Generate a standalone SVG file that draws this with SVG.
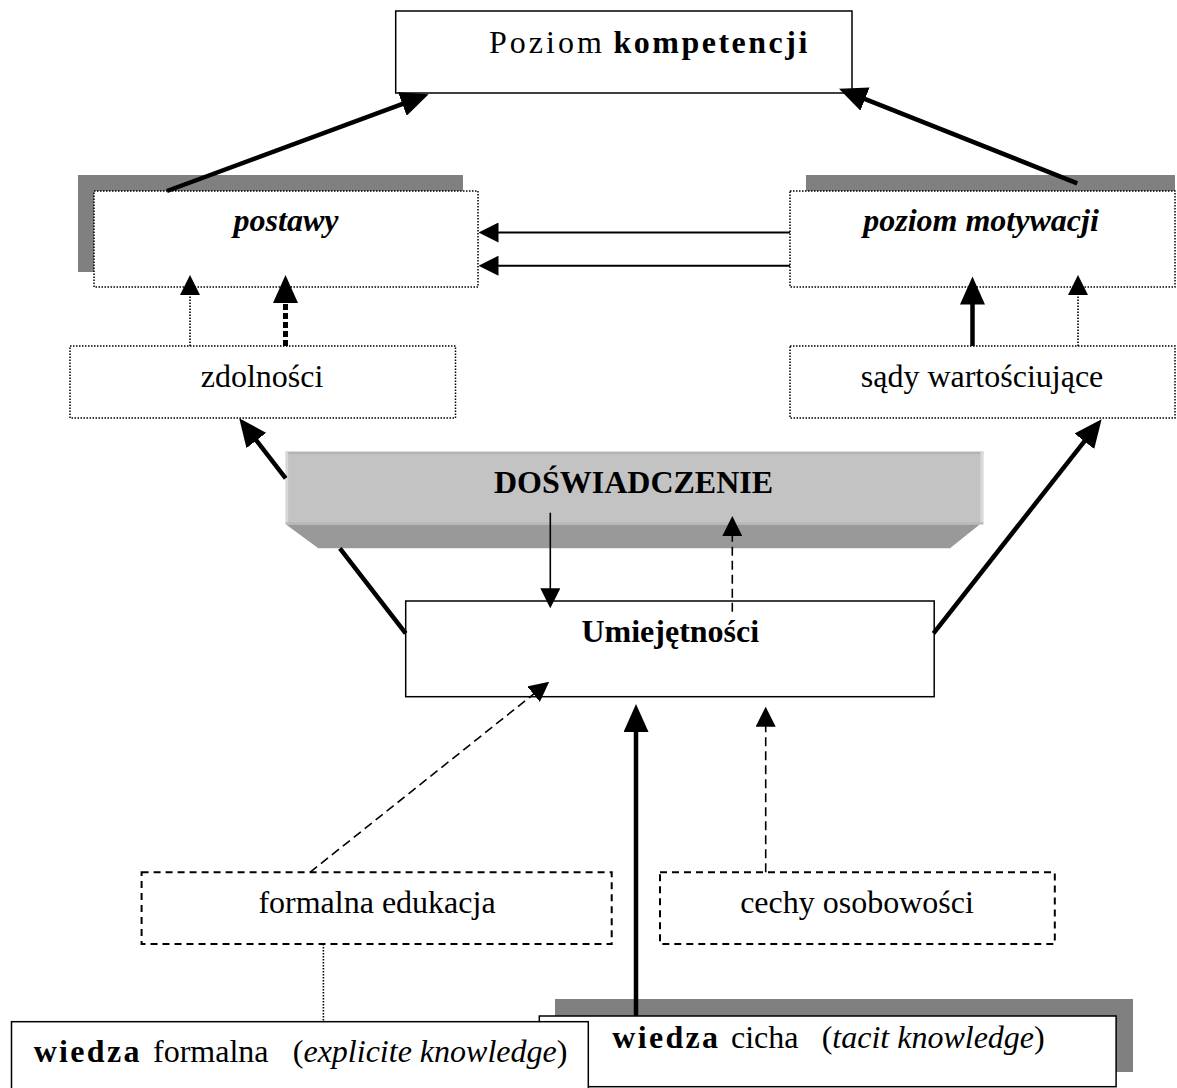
<svg xmlns="http://www.w3.org/2000/svg" width="1177" height="1088" viewBox="0 0 1177 1088">
<style>
.box{fill:#fff;stroke:#000;stroke-width:1.5}
.dot{fill:#fff;stroke:#000;stroke-width:1.5;stroke-dasharray:1.5 1.5}
.dash{fill:#fff;stroke:#000;stroke-width:2;stroke-dasharray:7 5}
.shadow{fill:#808080}
text{font-family:"Liberation Serif","Times New Roman",serif;font-size:32px;fill:#000}
.b{font-weight:bold}
.i{font-style:italic}
.c{text-anchor:middle}
.thin{stroke:#000;stroke-width:1.6;fill:none}
.mid{stroke:#000;stroke-width:2;fill:none}
.thick{stroke:#000;stroke-width:4.5;fill:none}
.tdot{stroke:#000;stroke-width:1.6;stroke-dasharray:1.5 1.5;fill:none}
.tdash{stroke:#000;stroke-width:1.6;stroke-dasharray:9 5;fill:none}
.bdot{stroke:#000;stroke-width:5;stroke-dasharray:6 3;fill:none}
</style>
<defs>
<marker id="ah" markerUnits="userSpaceOnUse" markerWidth="20" markerHeight="20" refX="10" refY="10" orient="auto"><path d="M0,0 L20,10 L0,20 z" fill="#000"/></marker>
<marker id="ahL" markerUnits="userSpaceOnUse" markerWidth="28" markerHeight="25" refX="14" refY="12.5" orient="auto"><path d="M0,0 L28,12.5 L0,25 z" fill="#000"/></marker>
</defs>
<rect width="1177" height="1088" fill="#fff"/>

<g id="kompetencje">
<rect class="box" x="395.7" y="11" width="456.3" height="82"/>
<text y="52.7"><tspan x="489" letter-spacing="3">Poziom</tspan><tspan x="613.5" class="b" letter-spacing="2.5">kompetencji</tspan></text>
</g>

<g id="postawy">
<rect class="shadow" x="78" y="175" width="385" height="97"/>
<rect class="dot" x="94" y="191" width="384" height="96"/>
<text class="b i c" x="286" y="231">postawy</text>
</g>

<g id="motywacja">
<rect class="shadow" x="806" y="175" width="369" height="96"/>
<rect class="dot" x="790" y="191" width="385" height="96"/>
<text class="b i c" x="981" y="231">poziom motywacji</text>
</g>

<g id="zdolnosci">
<rect class="dot" x="70" y="346" width="385.5" height="72"/>
<text class="c" x="262" y="387">zdolności</text>
</g>

<g id="sady">
<rect class="dot" x="790" y="346" width="385" height="72"/>
<text class="c" x="982" y="387">sądy wartościujące</text>
</g>

<g id="doswiadczenie">
<polygon points="285.7,524.3 980,524.3 950,548.3 318.3,548.3" fill="#999"/>
<rect x="285.7" y="451.7" width="697.6" height="72.6" fill="#c3c3c3"/>
<rect x="285.7" y="451.7" width="697.6" height="2.5" fill="#b3b3b3"/>
<rect x="285.7" y="451.7" width="2.5" height="72.6" fill="#d8d8d8"/>
<rect x="980.5" y="451.7" width="2.8" height="72.6" fill="#dadada"/>
<rect x="285.7" y="522.3" width="697.6" height="2" fill="#b8b8b8"/>
<text class="b c" x="633.5" y="493">DOŚWIADCZENIE</text>
</g>

<g id="umiejetnosci">
<rect class="box" x="405.7" y="601" width="528.5" height="95.7"/>
<text class="b c" x="670.3" y="641.5">Umiejętności</text>
</g>

<g id="edukacja">
<rect class="dash" x="141.6" y="872.3" width="470.1" height="71.7"/>
<text class="c" x="377" y="912.7">formalna edukacja</text>
</g>

<g id="osobowosc">
<rect class="dash" x="660" y="872.3" width="394.8" height="71.7"/>
<text class="c" x="857" y="912.7">cechy osobowości</text>
</g>

<g id="wiedza-cicha">
<rect class="shadow" x="555" y="999" width="578" height="73"/>
<rect class="box" x="539.3" y="1016" width="576.8" height="70.7"/>
<text y="1048.3"><tspan x="612.3" class="b" letter-spacing="2.3">wiedza</tspan><tspan x="731">cicha</tspan><tspan x="821.7">(</tspan><tspan class="i">tacit knowledge</tspan><tspan>)</tspan></text>
</g>

<g id="wiedza-formalna">
<rect class="box" x="11.5" y="1021.7" width="576.8" height="70"/>
<text y="1062.3"><tspan x="33.7" class="b" letter-spacing="2.3">wiedza</tspan><tspan x="153">formalna</tspan><tspan x="292.8">(</tspan><tspan class="i">explicite knowledge</tspan><tspan>)</tspan></text>
</g>

<g id="connectors">
<path class="thick" d="M167,191 L415.5,99.2" marker-end="url(#ahL)"/>
<path class="thick" d="M1077.3,183.3 L852,93.9" marker-end="url(#ahL)"/>
<path class="tdot" d="M190,346 L190,285" marker-end="url(#ah)"/>
<path class="bdot" d="M285.5,346 L285.5,289" marker-end="url(#ahL)"/>
<path class="thick" stroke-width="5" d="M972.5,346 L972.5,290.5" marker-end="url(#ahL)"/>
<path class="tdot" d="M1078,346 L1078,285" marker-end="url(#ah)"/>
<path class="mid" d="M790,232.5 L488.5,232.5" marker-end="url(#ah)"/>
<path class="mid" d="M790,265.7 L488.5,265.7" marker-end="url(#ah)"/>
<path class="thick" stroke-width="4" d="M405.7,633.3 L339.9,548.3 M285.7,478.3 L247.8,429.4" marker-end="url(#ahL)"/>
<path class="thick" stroke-width="4" d="M933.5,633.3 L1093,430.3" marker-end="url(#ahL)"/>
<path class="thin" d="M550.3,512.7 L550.3,598.3" marker-end="url(#ah)"/>
<path class="tdash" d="M732.3,611.7 L732.3,526" marker-end="url(#ah)"/>
<path class="tdash" d="M310,872.3 L541.4,687.9" marker-end="url(#ah)"/>
<path class="tdash" d="M765.7,872.3 L765.7,716.7" marker-end="url(#ah)"/>
<path class="thick" stroke-width="4" d="M636,1016 L636,718" marker-end="url(#ahL)"/>
<path class="tdot" d="M323.4,944 L323.4,1021"/>
</g>
</svg>
